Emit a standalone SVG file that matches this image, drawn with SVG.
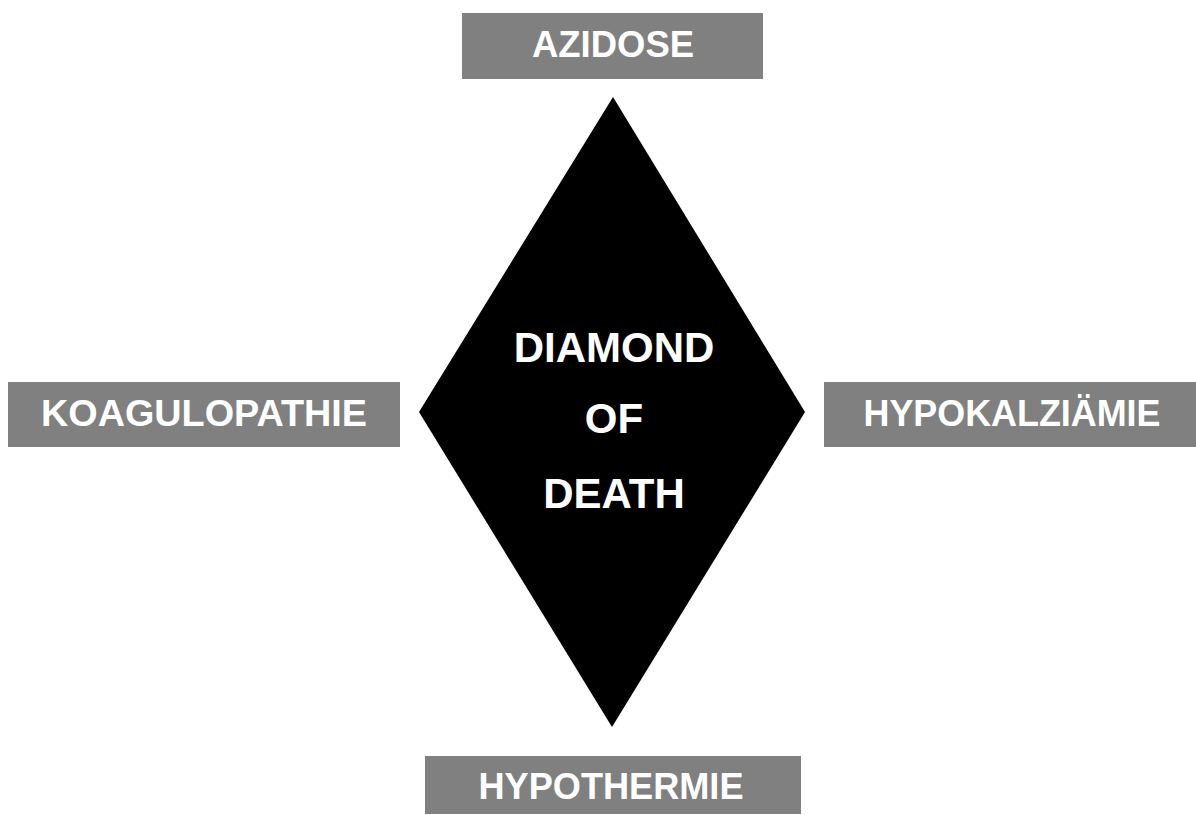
<svg xmlns="http://www.w3.org/2000/svg" width="1196" height="815" viewBox="0 0 1196 815">
<style>
.box{fill:#808080}
.lbl{fill:#fff;font-family:"Liberation Sans",Arial,sans-serif;font-weight:bold;text-anchor:middle;font-size:36px}
.ctr{font-size:42px}
</style>
<rect width="1196" height="815" fill="#fff"/>
<g id="diamond">
<polygon points="613,97 805,412 612,727 419,412" fill="#000"/>
<text class="lbl ctr" x="614" y="362">DIAMOND</text>
<text class="lbl ctr" x="614" y="433">OF</text>
<text class="lbl ctr" x="614" y="508">DEATH</text>
</g>
<g id="azidose">
<rect class="box" x="462" y="13" width="301" height="66"/>
<text class="lbl" x="613" y="57" textLength="162" lengthAdjust="spacingAndGlyphs">AZIDOSE</text>
</g>
<g id="koagulopathie">
<rect class="box" x="8" y="382" width="392" height="65"/>
<text class="lbl" x="204" y="426" textLength="326" lengthAdjust="spacingAndGlyphs">KOAGULOPATHIE</text>
</g>
<g id="hypokalziaemie">
<rect class="box" x="824" y="382" width="372" height="65"/>
<text class="lbl" x="1012" y="426" textLength="297" lengthAdjust="spacingAndGlyphs">HYPOKALZIÄMIE</text>
</g>
<g id="hypothermie">
<rect class="box" x="425" y="756" width="376" height="58"/>
<text class="lbl" x="611" y="799" textLength="265" lengthAdjust="spacingAndGlyphs">HYPOTHERMIE</text>
</g>
<g id="connectors"></g>
</svg>
